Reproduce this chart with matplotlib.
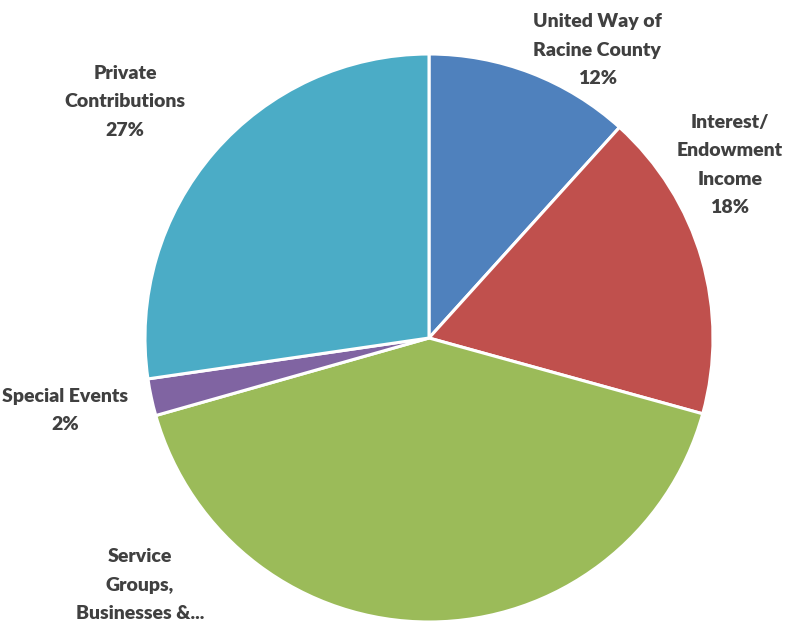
import matplotlib
matplotlib.use("Agg")
from matplotlib import pyplot as plt

# slice data, clockwise from 12 o'clock
names = ["United Way of\nRacine County", "Interest/\nEndowment\nIncome",
         "Service\nGroups,\nBusinesses &...", "Special Events", "Private\nContributions"]
values = [11.7, 17.6, 41.3, 2.1, 27.3]
show_pct = [True, True, False, True, True]
colors = ["#4F81BD", "#C0504D", "#9BBB59", "#8064A2", "#4BACC6"]

# label anchor positions (in pie-radius units)
label_xy = [(0.592, 1.014), (1.060, 0.609), (-1.018, -0.870), (-1.282, -0.254), (-1.070, 0.831)]

W, H = 794, 627
cx, cy, R = 429, 338, 284

fig = plt.figure(figsize=(W / 100, H / 100), dpi=100)
ax = fig.add_axes([0, 0, 1, 1])
ax.pie(values, colors=colors, startangle=90, counterclock=False, radius=1,
       wedgeprops=dict(edgecolor="white", linewidth=2.2))
ax.set_xlim(-cx / R, (W - cx) / R)
ax.set_ylim(-(H - cy) / R, cy / R)
ax.set_aspect("equal")
ax.axis("off")

total = sum(values)
for name, v, flag, (x, y) in zip(names, values, show_pct, label_xy):
    txt = name + ("\n%d%%" % round(100 * v / total) if flag else "")
    ax.text(x, y, txt, ha="center", va="center", fontsize=14, fontweight="heavy",
            family="Lato", color="#404040", linespacing=1.8)

fig.savefig("out.png", dpi=100)
